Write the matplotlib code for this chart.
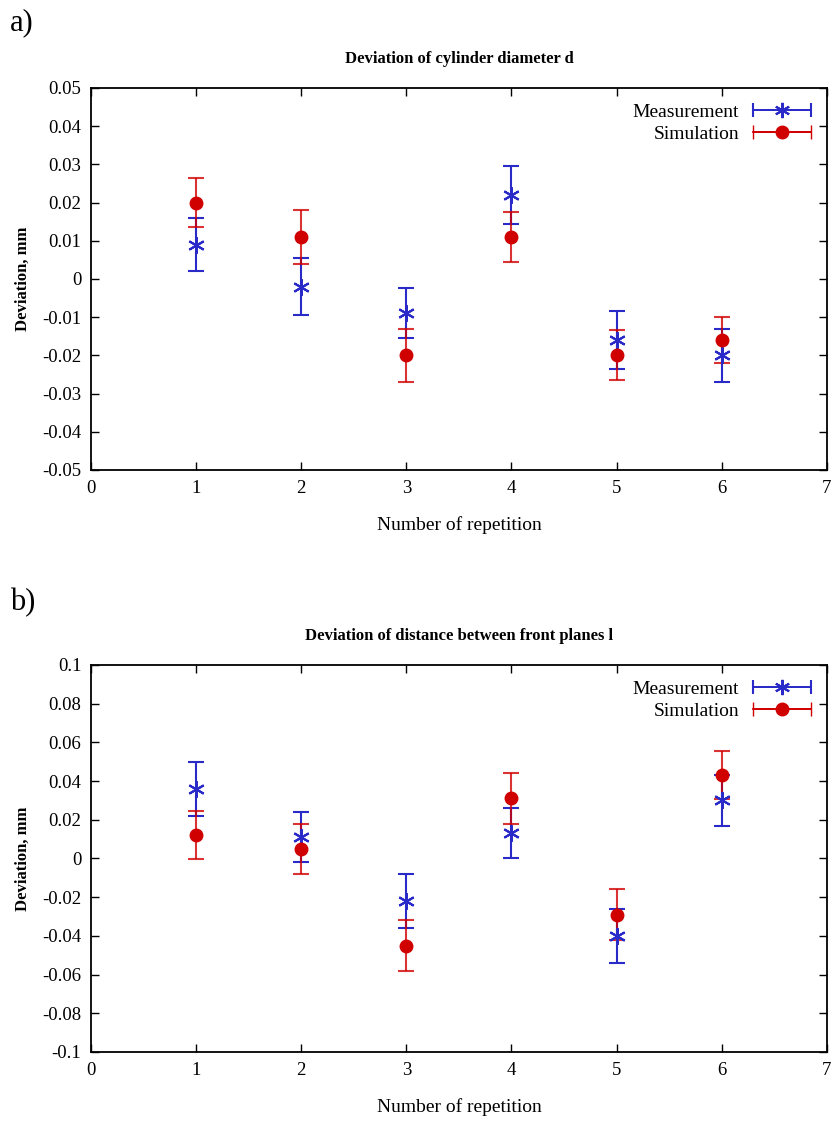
import matplotlib
matplotlib.use('Agg')
import matplotlib.pyplot as plt
import numpy as np
from matplotlib.ticker import FuncFormatter
from matplotlib.container import ErrorbarContainer
from matplotlib.legend_handler import HandlerErrorbar

plt.rcParams['font.family'] = ['Liberation Serif', 'DejaVu Serif']

# data
rep = [1, 2, 3, 4, 5, 6]

# a) cylinder diameter d
meas_d = [0.009, -0.002, -0.009, 0.022, -0.016, -0.020]
meas_d_err = [0.007, 0.0075, 0.0065, 0.0075, 0.0075, 0.007]
sim_d = [0.020, 0.011, -0.020, 0.011, -0.020, -0.016]
sim_d_err = [0.0065, 0.007, 0.007, 0.0065, 0.0065, 0.006]

# b) distance between front planes l
meas_l = [0.036, 0.011, -0.022, 0.013, -0.040, 0.030]
meas_l_err = [0.014, 0.013, 0.014, 0.013, 0.014, 0.013]
sim_l = [0.012, 0.005, -0.045, 0.031, -0.029, 0.043]
sim_l_err = [0.0125, 0.013, 0.013, 0.013, 0.013, 0.0125]

blue = '#2a2ac8'
red = '#d00000'
star = (6, 2, 0)

fig = plt.figure(figsize=(8.39, 11.24), dpi=100)

fmt = FuncFormatter(lambda v, p: '%g' % round(v, 4))


def panel(ax, meas, merr, sim, serr, ylim, ystep, title):
    ax.errorbar(rep, meas, yerr=merr, fmt='none', ecolor=blue, elinewidth=1.5,
                capsize=6, capthick=1.5, zorder=2)
    ax.plot(rep, meas, linestyle='none', marker=star, color=blue,
            markersize=12, markeredgewidth=1.5, zorder=3)
    ax.errorbar(rep, sim, yerr=serr, fmt='none', ecolor=red, elinewidth=1.5,
                capsize=6, capthick=1.5, alpha=0.8, zorder=2)
    ax.plot(rep, sim, linestyle='none', marker='o', color=red,
            markersize=9, zorder=3)
    # legend proxies (gnuplot style sample)
    h1 = ax.errorbar([np.nan], [np.nan], xerr=[1], fmt='-', marker=star,
                     color=blue, markersize=11, markeredgewidth=1.5,
                     capsize=5, lw=1.3)
    h2 = ax.errorbar([np.nan], [np.nan], xerr=[1], fmt='-', marker='o',
                     color=red, markersize=9, capsize=5, lw=1.3)
    leg = ax.legend([h1, h2], ['Measurement', 'Simulation'], loc='upper right',
                    frameon=False, markerfirst=False, fontsize=14,
                    handlelength=3.0, borderaxespad=0.4, labelspacing=0.2,
                    handletextpad=0.7,
                    handler_map={ErrorbarContainer: HandlerErrorbar(xerr_size=1.5)})
    for t in leg.get_texts():
        t.set_ha('right')
    ax.set_xlim(0, 7)
    ax.set_ylim(*ylim)
    ax.set_xticks(range(0, 8))
    ax.set_yticks(np.arange(ylim[0], ylim[1] + ystep / 2, ystep))
    ax.yaxis.set_major_formatter(fmt)
    ax.tick_params(direction='in', top=True, right=True, length=6,
                   width=1, labelsize=13.5, pad=7)
    for s in ax.spines.values():
        s.set_linewidth(1.3)
    ax.set_title(title, fontsize=12, fontweight='bold', pad=18)
    ax.set_xlabel('Number of repetition', fontsize=14, labelpad=14)
    ax.set_ylabel('Deviation, mm', fontsize=12, fontweight='bold', labelpad=8)


ax1 = fig.add_axes([0.1085, 0.5819, 0.877, 0.3399])
panel(ax1, meas_d, meas_d_err, sim_d, sim_d_err, (-0.05, 0.05), 0.01,
      'Deviation of cylinder diameter d')
ax2 = fig.add_axes([0.1085, 0.0641, 0.877, 0.3443])
panel(ax2, meas_l, meas_l_err, sim_l, sim_l_err, (-0.1, 0.1), 0.02,
      'Deviation of distance between front planes l')

fig.text(0.012, 0.980, 'a)', fontsize=22, va='center')
fig.text(0.012, 0.464, 'b)', fontsize=22, va='center')

fig.savefig('out.png', dpi=100)
